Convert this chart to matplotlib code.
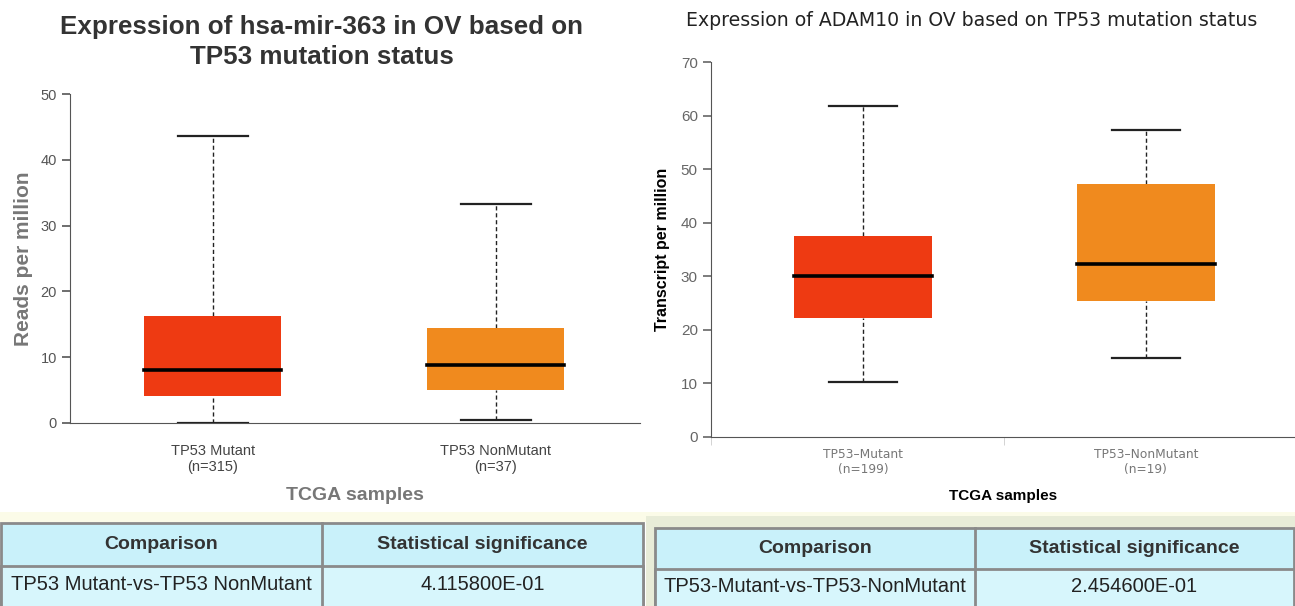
import numpy as np
import matplotlib
matplotlib.use("Agg")
import matplotlib.pyplot as plt
from matplotlib.patches import Rectangle

# ---- data ----
mir_groups = ["TP53 Mutant\n(n=315)", "TP53 NonMutant\n(n=37)"]
mir_low = [0.0, 0.45]
mir_q1 = [4.1, 5.0]
mir_med = [8.0, 8.8]
mir_q3 = [16.3, 14.4]
mir_high = [43.6, 33.3]

adam_groups = ["TP53\u2013Mutant\n(n=199)", "TP53\u2013NonMutant\n(n=19)"]
adam_low = [10.3, 14.8]
adam_q1 = [22.2, 25.3]
adam_med = [30.1, 32.3]
adam_q3 = [37.5, 47.3]
adam_high = [61.7, 57.3]

colors = ["#EE3A12", "#F08A1E"]

mir_table = ["Comparison", "Statistical significance",
             "TP53 Mutant-vs-TP53 NonMutant", "4.115800E-01"]
adam_table = ["Comparison", "Statistical significance",
              "TP53-Mutant-vs-TP53-NonMutant", "2.454600E-01"]

W, H = 1295, 606
fig = plt.figure(figsize=(W / 100, H / 100), dpi=100)
fig.patch.set_facecolor("white")


def px_axes(x0, y0, x1, y1):
    # pixel box (top-left origin) -> figure axes
    return fig.add_axes([x0 / W, 1 - y1 / H, (x1 - x0) / W, (y1 - y0) / H])


def draw_boxes(ax, low, q1, med, q3, high, bw, cw):
    for i in range(len(med)):
        x = i + 1
        ax.add_patch(Rectangle((x - bw / 2, q1[i]), bw, q3[i] - q1[i],
                               facecolor=colors[i], edgecolor="none", zorder=2))
        ax.plot([x - bw / 2, x + bw / 2], [med[i], med[i]], color="black", lw=2.6, zorder=3)
        ax.plot([x, x], [q3[i], high[i]], color="#222222", lw=1, ls=(0, (3, 2)), zorder=1)
        ax.plot([x, x], [low[i], q1[i]], color="#222222", lw=1, ls=(0, (3, 2)), zorder=1)
        ax.plot([x - cw / 2, x + cw / 2], [high[i], high[i]], color="#222222", lw=1.6, zorder=3)
        ax.plot([x - cw / 2, x + cw / 2], [low[i], low[i]], color="#222222", lw=1.6, zorder=3)


# ---- left chart ----
ax1 = px_axes(70, 94, 640, 423)
ax1.set_xlim(0.495, 2.509)
ax1.set_ylim(0, 50)
draw_boxes(ax1, mir_low, mir_q1, mir_med, mir_q3, mir_high, 0.484, 0.247)
for s in ["top", "right"]:
    ax1.spines[s].set_visible(False)
ax1.spines["left"].set_color("#555555")
ax1.spines["bottom"].set_color("#555555")
ax1.set_yticks([0, 10, 20, 30, 40, 50])
ax1.tick_params(axis="y", colors="#555555", labelsize=10.5, length=6, width=1.2)
for t in ax1.get_yticklabels():
    t.set_family("Liberation Sans")
ax1.set_xticks([1, 2])
ax1.set_xticklabels(mir_groups, family="Liberation Sans", fontsize=10.5, color="#444444")
ax1.tick_params(axis="x", length=0, pad=15)
ax1.set_ylabel("Reads per million", family="Liberation Sans", fontsize=15,
               fontweight="bold", color="#777777", labelpad=5)
fig.text(322 / W, 1 - 42 / H, "Expression of hsa-mir-363 in OV based on\nTP53 mutation status",
         ha="center", va="center", family="Liberation Sans", fontsize=18.7,
         fontweight="bold", color="#333333", linespacing=1.35)
fig.text(355 / W, 1 - 495 / H, "TCGA samples", ha="center", va="center",
         family="Liberation Sans", fontsize=14, fontweight="bold", color="#777777")

# ---- right chart ----
ax2 = px_axes(711, 62, 1295, 437)
ax2.set_xlim(0.463, 2.527)
ax2.set_ylim(0, 70)
draw_boxes(ax2, adam_low, adam_q1, adam_med, adam_q3, adam_high, 0.49, 0.24)
for s in ["top", "right"]:
    ax2.spines[s].set_visible(False)
ax2.spines["left"].set_color("#555555")
ax2.spines["bottom"].set_color("#555555")
ax2.set_yticks(range(0, 71, 10))
ax2.tick_params(axis="y", colors="#666666", labelsize=11, length=6, width=1.2)
for t in ax2.get_yticklabels():
    t.set_family("Liberation Sans")
ax2.set_xticks([1, 2])
ax2.set_xticklabels(adam_groups, family="DejaVu Sans", fontsize=8.8, color="#777777")
ax2.tick_params(axis="x", length=0, pad=8)
ax2.set_xticks([0.463, 1.5, 2.527], minor=True)
ax2.tick_params(axis="x", which="minor", length=6, color="#cccccc")
ax2.set_ylabel("Transcript per million", family="Liberation Sans", fontsize=11.5,
               fontweight="bold", color="black", labelpad=8)
fig.text(972 / W, 1 - 20 / H, "Expression of ADAM10 in OV based on TP53 mutation status",
         ha="center", va="center", family="DejaVu Sans", fontsize=13.6, color="#222222")
fig.text(1003 / W, 1 - 496 / H, "TCGA samples", ha="center", va="center",
         family="Liberation Sans", fontsize=11, fontweight="bold", color="black")

# ---- tables ----
tab = fig.add_axes([0, 0, 1, 1], zorder=-1)
tab.set_xlim(0, W)
tab.set_ylim(H, 0)
tab.axis("off")
tab.add_patch(Rectangle((0, 512), W, 10, facecolor="#fbfbe8", edgecolor="none"))
tab.add_patch(Rectangle((646, 516), W - 646, H - 516, facecolor="#e8ecd8", edgecolor="none"))


def draw_table(x0, x_mid, x1, y0, y_mid, y1, cells):
    tab.add_patch(Rectangle((x0, y0), x1 - x0, y1 - y0, facecolor="#c9f1fa",
                            edgecolor="#8a8a8a", lw=2))
    tab.add_patch(Rectangle((x0, y_mid), x1 - x0, y1 - y_mid, facecolor="#d7f6fc",
                            edgecolor="#8a8a8a", lw=2))
    tab.plot([x_mid, x_mid], [y0, y1], color="#8a8a8a", lw=2)
    cx = [(x0 + x_mid) / 2, (x_mid + x1) / 2]
    for j in range(2):
        tab.text(cx[j], (y0 + y_mid) / 2, cells[j], ha="center", va="center",
                 family="Liberation Sans", fontsize=14, fontweight="bold", color="#333333")
        tab.text(cx[j], (y_mid + y1) / 2 - 2, cells[2 + j], ha="center", va="center",
                 family="Liberation Sans", fontsize=14.5, color="#222222")


draw_table(1, 322, 643, 523, 566, 608, mir_table)
draw_table(655, 975, 1294, 528, 569, 608, adam_table)

fig.savefig("out.png", dpi=100)
